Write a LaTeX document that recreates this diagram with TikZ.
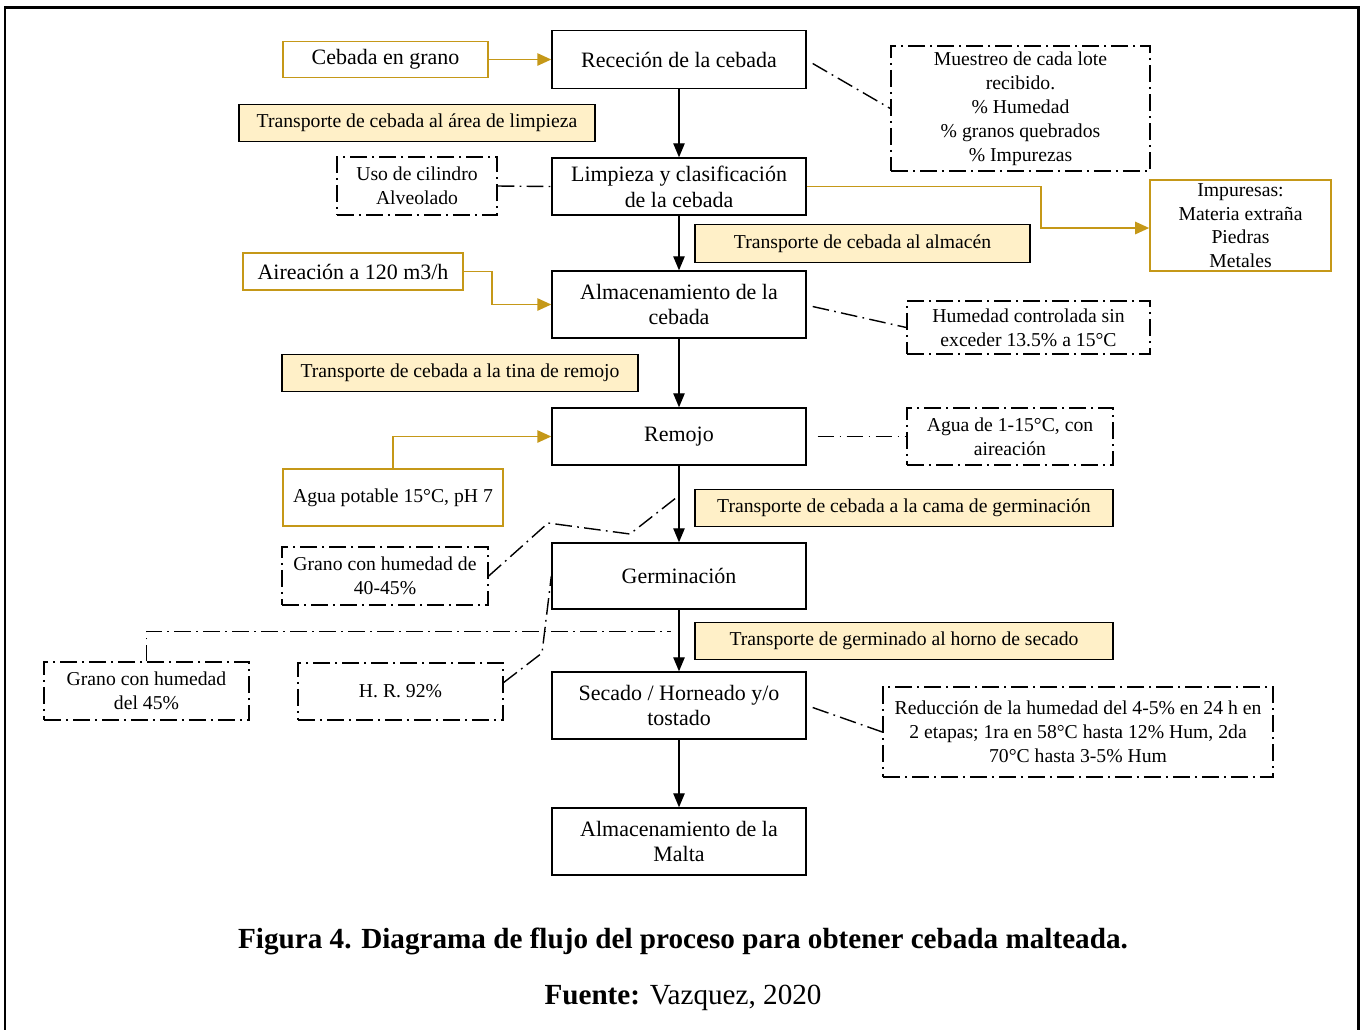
\documentclass[tikz,border=0pt]{standalone}
\usepackage{fontspec}
\setmainfont{Liberation Serif}
\usetikzlibrary{arrows.meta,calc}
\definecolor{gold}{RGB}{197,152,24}
\definecolor{beige}{RGB}{255,240,200}
\begin{document}
\begin{tikzpicture}[x=0.02cm,y=-0.02cm,
  mainbox/.style={draw, line width=0.8pt, fill=white, align=center, inner sep=0pt,
    minimum width=5.08cm, font=\fontsize{12.5}{14.7}\selectfont},
  goldbox/.style={draw=gold, line width=0.9pt, fill=white, align=center, inner sep=0pt,
    font=\fontsize{12.5}{14.7}\selectfont},
  transbox/.style={draw, line width=0.8pt, fill=beige, align=center, inner sep=0pt,
    font=\fontsize{11.2}{13.5}\selectfont},
  dd/.style={line width=0.8pt, dash pattern=on 9.5pt off 3pt on 1pt off 3pt},
  notebox/.style={draw, dd, fill=white, align=center, inner sep=0pt,
    font=\fontsize{11.2}{13.6}\selectfont},
  flow/.style={line width=0.8pt, -{Triangle[length=8pt,width=6.5pt]}},
  goldflow/.style={draw=gold, line width=1.1pt, -{Triangle[length=8pt,width=7pt,fill=gold]}},
]
\useasboundingbox (0,0) rectangle (1361,1029);
\draw[line width=1.7pt] (5,7) rectangle (1358,1045);

% main column
\node[mainbox, minimum height=1.16cm] (rec) at (679,59.5) {Receción de la cebada};
\node[mainbox, minimum height=1.14cm] (lim) at (679,186.5) {Limpieza y clasificación\\de la cebada};
\node[mainbox, minimum height=1.34cm] (alm) at (679,304.5) {Almacenamiento de la\\cebada};
\node[mainbox, minimum height=1.14cm] (rem) at (679,436.5) {Remojo};
\node[mainbox, minimum height=1.32cm] (ger) at (679,576) {Germinación};
\node[mainbox, minimum height=1.34cm] (sec) at (679,705.5) {Secado / Horneado y/o\\tostado};
\node[mainbox, minimum height=1.34cm] (mal) at (679,841.5) {Almacenamiento de la\\Malta};

% gold boxes
\node[goldbox, minimum width=4.10cm, minimum height=0.72cm] (ceb) at (385.5,59.5) {Cebada en grano};
\node[goldbox, minimum width=3.62cm, minimum height=1.82cm, font=\fontsize{11.2}{13.4}\selectfont] (imp) at (1240.5,225.5) {Impuresas:\\Materia extraña\\Piedras\\Metales};
\node[goldbox, minimum width=4.40cm, minimum height=0.74cm] (air) at (353,271.5) {Aireación a 120 m3/h};
\node[goldbox, minimum width=4.40cm, minimum height=1.14cm, font=\fontsize{11.2}{13.5}\selectfont] (agu) at (393,497.5) {Agua potable 15°C, pH 7};

% transport labels
\node[transbox, minimum width=7.12cm, minimum height=0.74cm] (t1) at (417,123) {Transporte de cebada al área de limpieza};
\node[transbox, minimum width=6.70cm, minimum height=0.76cm] (t2) at (862.5,243.5) {Transporte de cebada al almacén};
\node[transbox, minimum width=7.12cm, minimum height=0.74cm] (t3) at (460,373) {Transporte de cebada a la tina de remojo};
\node[transbox, minimum width=8.36cm, minimum height=0.74cm] (t4) at (904,508) {Transporte de cebada a la cama de germinación};
\node[transbox, minimum width=8.36cm, minimum height=0.74cm] (t5) at (904,641) {Transporte de germinado al horno de secado};

% note boxes
\node[notebox, minimum width=5.18cm, minimum height=2.50cm] (mue) at (1020.5,108.5) {Muestreo de cada lote\\recibido.\\\% Humedad\\\% granos quebrados\\\% Impurezas};
\node[notebox, minimum width=3.20cm, minimum height=1.16cm] (uso) at (417,186) {Uso de cilindro\\Alveolado};
\node[notebox, minimum width=4.86cm, minimum height=1.06cm] (hum) at (1028.5,327.5) {Humedad controlada sin\\exceder 13.5\% a 15°C};
\node[notebox, minimum width=4.12cm, minimum height=1.14cm] (agc) at (1010,436.5) {Agua de 1-15°C, con\\aireación};
\node[notebox, minimum width=4.12cm, minimum height=1.16cm] (g40) at (385,576) {Grano con humedad de\\40-45\%};
\node[notebox, minimum width=4.10cm, minimum height=1.16cm] (g45) at (146.5,691) {Grano con humedad\\del 45\%};
\node[notebox, minimum width=4.10cm, minimum height=1.14cm] (hr) at (400.5,691.5) {H. R. 92\%};
\node[notebox, minimum width=7.80cm, minimum height=1.80cm] (red) at (1078,732) {Reducción de la humedad del 4-5\% en 24 h en\\2 etapas; 1ra en 58°C hasta 12\% Hum, 2da\\70°C hasta 3-5\% Hum};

% main flow
\draw[flow] (rec) -- (lim);
\draw[flow] (lim) -- (alm);
\draw[flow] (alm) -- (rem);
\draw[flow] (rem) -- (ger);
\draw[flow] (ger) -- (sec);
\draw[flow] (sec) -- (mal);

% gold inputs / outputs
\draw[goldflow] (ceb.east) -- (rec.west);
\draw[goldflow] (lim.east) -- ++(234,0) |- ([yshift=-0.05cm]imp.west);
\draw[goldflow] (air.east) -- ++(28,0) |- (alm.west);
\draw[goldflow] (agu.north) |- (rem.west);

% dash-dot notes connectors
\draw[dd] ($(rec.east)+(6,4)$) -- (mue.west);
\draw[dd] (uso.east) -- (lim.west);
\draw[dd] ($(alm.east)+(6,2)$) -- (hum.west);
\draw[dd] ($(rem.east)+(11,0)$) -- (agc.west);
\draw[dd] ($(sec.east)+(6,2)$) -- (red.west);
\coordinate (j1) at ($(rem.south)!0.42!(ger.north)+(-3,0)$);
\draw[dd] (g40.east) -- (548,523) -- (630,534) -- (j1);
\coordinate (j2) at ($(ger.south)!0.35!(sec.north)+(-8,0)$);
\draw[dd] (g45.north) |- (j2);
\draw[dd] ($(hr.east)+(0,-9)$) -- (542,653) -- (ger.west);

% caption
\node[font=\fontsize{16.6}{19}\selectfont\bfseries] (cap) at (683,941) {Figura 4. Diagrama de flujo del proceso para obtener cebada malteada.};
\node[font=\fontsize{16.6}{19}\selectfont] (src) at (683,998) {\textbf{Fuente:} Vazquez, 2020};
\end{tikzpicture}
\end{document}
